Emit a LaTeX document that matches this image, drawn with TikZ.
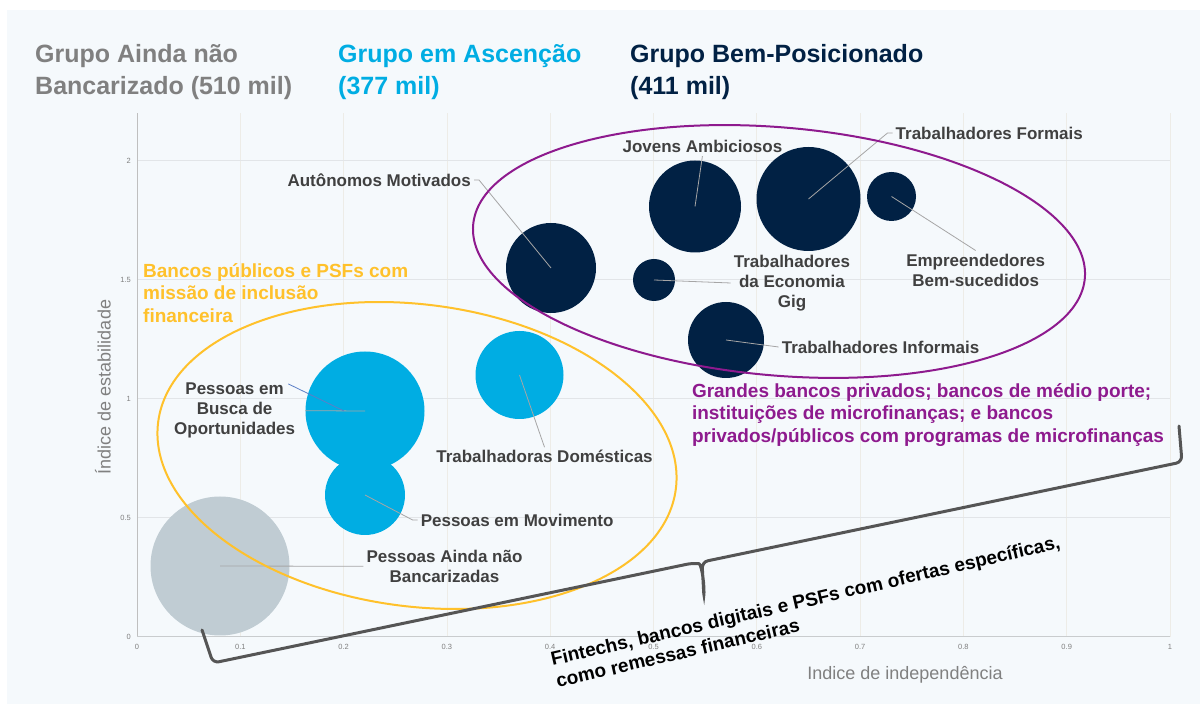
\documentclass[tikz,border=0pt]{standalone}
\usepackage{fontspec}
\setmainfont{Liberation Sans}
\usepackage{tikz}
\usetikzlibrary{shapes, arrows, positioning}

\definecolor{panel}{HTML}{F5F9FC}
\definecolor{navy}{HTML}{012144}
\definecolor{ascblue}{HTML}{00ADE3}
\definecolor{fog}{HTML}{C0CCD3}
\definecolor{tagtext}{HTML}{404040}
\definecolor{leadgray}{HTML}{A6A6A6}
\definecolor{stray}{HTML}{5B7FC7}
\definecolor{gold}{HTML}{FFC12B}
\definecolor{plum}{HTML}{8E1A8E}
\definecolor{bracegray}{HTML}{555555}
\definecolor{gridh}{HTML}{E2E5E8}
\definecolor{gridv}{HTML}{EDECE7}
\definecolor{axisgray}{HTML}{BFBFBF}
\definecolor{titlegray}{HTML}{808080}

\tikzstyle{bubble} = [circle, inner sep = 0pt]
\tikzstyle{tag} = [inner sep = 3pt, align = center, text = tagtext, font = \fontsize{17}{20}\selectfont\bfseries]
\tikzstyle{lead} = [draw = leadgray, line width = 0.8pt]
\tikzstyle{grouptitle} = [anchor = west, inner sep = 0pt, align = left, font = \fontsize{25}{32}\selectfont\bfseries]
\tikzstyle{offer} = [inner sep = 0pt, align = left, font = \fontsize{19}{22.5}\selectfont\bfseries]
\tikzstyle{ticklbl} = [inner sep = 0pt, text = titlegray, font = \fontsize{7.5}{9}\selectfont]
\tikzstyle{axistitle} = [inner sep = 0pt, text = titlegray, font = \fontsize{18}{20}\selectfont]

\begin{document}
\begin{tikzpicture}[x=1pt, y=1pt]
	\useasboundingbox (0,0) rectangle (1200,704);
	\fill [white] (0,0) rectangle (1200,704);
	\fill [panel] (7,0) rectangle (1200,694);

	% grid and axes
	\foreach \i in {1,...,10}
		\draw [gridv, line width = 0.8pt] ({137+103.3*\i},67) -- ({137+103.3*\i},591);
	\foreach \j in {1,...,4}
		\draw [gridh, line width = 1pt] (137,{67+119*\j}) -- (1170,{67+119*\j});
	\draw [axisgray, line width = 0.8pt] (137,67) -- (137,591);
	\draw [gridh!75!gray, line width = 1pt] (137,67) -- (1170,67);

	\foreach \i/\t in {0/0, 1/0.1, 2/0.2, 3/0.3, 4/0.4, 5/0.5, 6/0.6, 7/0.7, 8/0.8, 9/0.9, 10/1}
		\node [ticklbl] (x\i) at ({137+103.3*\i},57) {\t};
	\foreach \j/\t in {0/0, 1/0.5, 2/1, 3/1.5, 4/2}
		\node [ticklbl, anchor = east] (y\j) at (131,{67+119*\j}) {\t};

	\node [axistitle, rotate = 90] (ytitle) at (103,317) {Índice de estabilidade};
	\node [axistitle] (xtitle) at (905,29) {Indice de independência};

	% bubbles
	\node [bubble, fill = fog, minimum size = 139pt] (nobank) at (220,138) {};
	\node [bubble, fill = ascblue, minimum size = 119pt] (busca) at (365,293) {};
	\node [bubble, fill = ascblue, minimum size = 80pt] (movimento) at (365,209) {};
	\node [bubble, fill = ascblue, minimum size = 88pt] (domesticas) at (519.5,329) {};
	\node [bubble, fill = navy, minimum size = 90pt] (autonomos) at (551,436) {};
	\node [bubble, fill = navy, minimum size = 92pt] (jovens) at (695,497.5) {};
	\node [bubble, fill = navy, minimum size = 104pt] (formais) at (808.5,505) {};
	\node [bubble, fill = navy, minimum size = 49pt] (empreend) at (891.5,507.5) {};
	\node [bubble, fill = navy, minimum size = 42pt] (gig) at (654,424) {};
	\node [bubble, fill = navy, minimum size = 76pt] (informais) at (726,364) {};

	% labels
	\node [tag] (nobank-lbl) at (444.5,137.7) {Pessoas Ainda não\\Bancarizadas};
	\node [tag] (busca-lbl) at (234.6,293.3) {Pessoas em\\Busca de\\Oportunidades};
	\node [tag, anchor = west] (movimento-lbl) at (417.6,184) {Pessoas em Movimento};
	\node [tag] (domesticas-lbl) at (544.5,247.3) {Trabalhadoras Domésticas};
	\node [tag, anchor = east] (autonomos-lbl) at (474,524) {Autônomos Motivados};
	\node [tag] (jovens-lbl) at (702.4,557.3) {Jovens Ambiciosos};
	\node [tag, anchor = west] (formais-lbl) at (892.5,571) {Trabalhadores Formais};
	\node [tag] (empreend-lbl) at (975.7,434) {Empreendedores\\Bem-sucedidos};
	\node [tag] (gig-lbl) at (792,421) {Trabalhadores\\da Economia\\Gig};
	\node [tag, anchor = west] (informais-lbl) at (778.6,357) {Trabalhadores Informais};

	\path [lead] (nobank-lbl.west) -- (nobank.center);
	\path [lead] ([xshift = 7pt]busca-lbl.east) -- (busca.center);
	\path [lead, draw = stray] ([shift = {(-10pt,-4pt)}]busca-lbl.north east) -- ([xshift = -21pt]busca.center);
	\path [lead] (movimento-lbl.west) -- ++(-5,0) -- (movimento.center);
	\path [lead] (domesticas-lbl.north) -- (domesticas.center);
	\path [lead] (autonomos-lbl.east) -- ++(5,0) -- (autonomos.center);
	\path [lead] (jovens-lbl.south) -- (jovens.center);
	\path [lead] (formais-lbl.west) -- ++(-5,0) -- (formais.center);
	\path [lead] (empreend-lbl.north) -- (empreend.center);
	\path [lead] (gig-lbl.west) -- (gig.center);
	\path [lead] (informais-lbl.west) -- (informais.center);

	% segment rings
	\node [draw = gold, line width = 2pt, ellipse, inner sep = 0pt, minimum width = 522pt, minimum height = 302pt, rotate = -7.4] (inclusao) at (417,248.5) {};
	\node [draw = plum, line width = 2pt, ellipse, inner sep = 0pt, minimum width = 614pt, minimum height = 248pt, rotate = -5] (privados) at (779,452.5) {};

	% group titles
	\node [grouptitle, text = titlegray] (ainda) at (35,632) {Grupo Ainda não\\Bancarizado (510 mil)};
	\node [grouptitle, text = ascblue] (ascencao) at (338,632) {Grupo em Ascenção\\(377 mil)};
	\node [grouptitle, text = navy] (bempos) at (630,632) {Grupo Bem-Posicionado\\(411 mil)};

	\node [offer, anchor = west, text = gold] (publicos) at (143,411) {Bancos públicos e PSFs com\\missão de inclusão\\financeira};
	\node [offer, anchor = west, text = plum] (grandes) at (691.8,289) {Grandes bancos privados; bancos de médio porte;\\instituições de microfinanças; e bancos\\privados/públicos com programas de microfinanças};

	% brace
	\draw [bracegray, line width = 3pt, rounded corners = 6pt, line cap = round] (202,74) -- (213,41) -- (693,141) .. controls (701,140) and (704,125) .. (704,106) -- (702,142) -- (1182,242) -- (1179,278);
	\node [offer, anchor = west, rotate = 13, text = black] (fintechs) at (553.5,34) {Fintechs, bancos digitais e PSFs com ofertas específicas,\\como remessas financeiras};
\end{tikzpicture}
\end{document}
